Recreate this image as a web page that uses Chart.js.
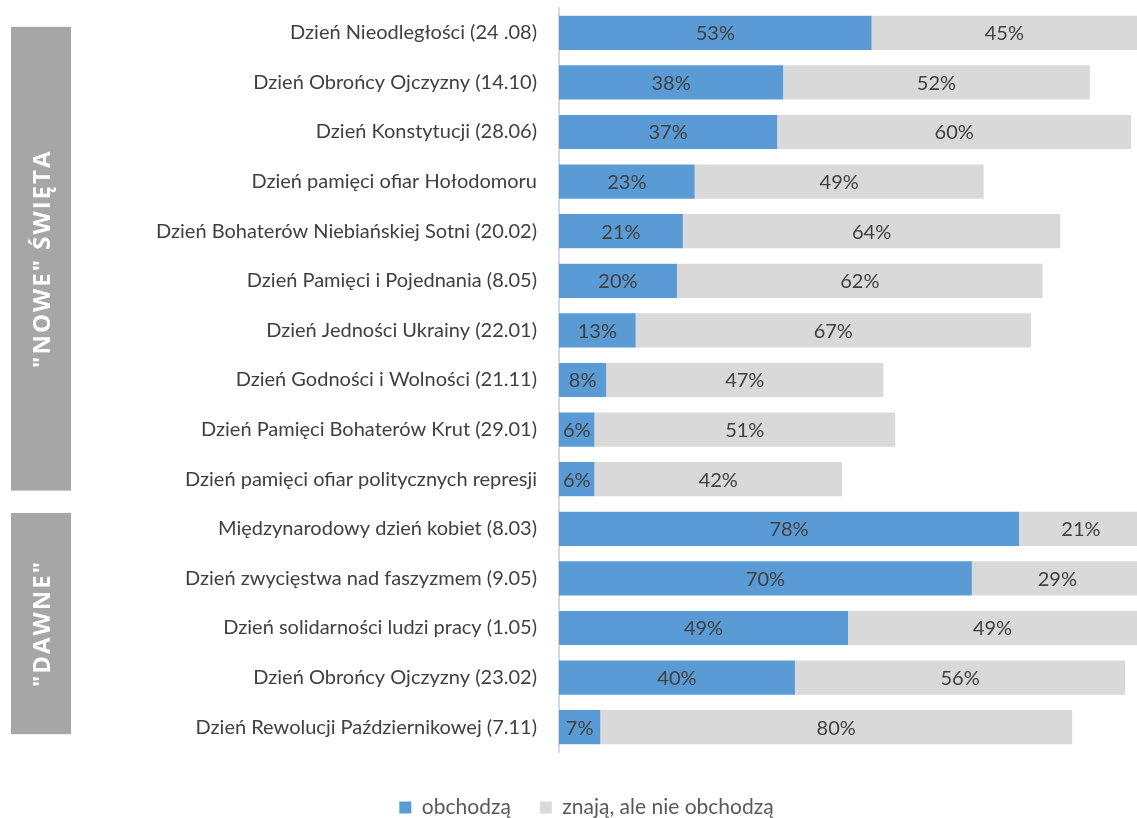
<!DOCTYPE html>
<html>
<head>
<meta charset="utf-8">
<script src="https://cdn.jsdelivr.net/npm/chart.js@4"></script>
<style>
  html, body { margin: 0; padding: 0; background: #fff; }
  #wrap { position: relative; width: 1137px; height: 818px; }
</style>
</head>
<body>
<div id="wrap"><canvas id="c" width="1137" height="818"></canvas></div>
<script>
const categories = [
  "Dzień Nieodległości (24 .08)",
  "Dzień Obrońcy Ojczyzny (14.10)",
  "Dzień Konstytucji (28.06)",
  "Dzień pamięci ofiar Hołodomoru",
  "Dzień Bohaterów Niebiańskiej Sotni (20.02)",
  "Dzień Pamięci i Pojednania (8.05)",
  "Dzień Jedności Ukrainy (22.01)",
  "Dzień Godności i Wolności (21.11)",
  "Dzień Pamięci Bohaterów Krut (29.01)",
  "Dzień pamięci ofiar politycznych represji",
  "Międzynarodowy dzień kobiet (8.03)",
  "Dzień zwycięstwa nad faszyzmem (9.05)",
  "Dzień solidarności ludzi pracy (1.05)",
  "Dzień Obrońcy Ojczyzny (23.02)",
  "Dzień Rewolucji Październikowej (7.11)"
];
const celebrate = [53, 38, 37, 23, 21, 20, 13, 8, 6, 6, 78, 70, 49, 40, 7];
const knowNotCelebrate = [45, 52, 60, 49, 64, 62, 67, 47, 51, 42, 21, 29, 49, 56, 80];
const seriesNames = ["obchodzą", "znają, ale nie obchodzą"];
const groupNames = ["\"NOWE\" ŚWIĘTA", "\"DAWNE\""];
const groupRanges = [[0, 9], [10, 14]];

const FONT = "Lato, 'Open Sans', sans-serif";

const dataLabels = {
  id: 'dataLabels',
  afterDatasetsDraw(chart) {
    const ctx = chart.ctx;
    ctx.save();
    ctx.font = "20px " + FONT;
    ctx.fillStyle = '#404040';
    ctx.textAlign = 'center';
    ctx.textBaseline = 'middle';
    chart.data.datasets.forEach((ds, di) => {
      const meta = chart.getDatasetMeta(di);
      meta.data.forEach((el, i) => {
        const v = ds.data[i];
        const cx = (el.x + el.base) / 2;
        ctx.fillText(v + '%', cx, el.y + 1);
      });
    });
    ctx.restore();
  }
};

const groupBoxes = {
  id: 'groupBoxes',
  afterDraw(chart) {
    const ctx = chart.ctx;
    const y = chart.scales.y;
    const step = y.getPixelForValue(1) - y.getPixelForValue(0);
    const boxes = [
      [y.getPixelForValue(groupRanges[0][0]) - 0.12 * step, y.getPixelForValue(groupRanges[0][1]) + 0.23 * step],
      [y.getPixelForValue(groupRanges[1][0]) - 0.32 * step, y.getPixelForValue(groupRanges[1][1]) + 0.14 * step]
    ];
    ctx.save();
    boxes.forEach((b, i) => {
      ctx.fillStyle = '#a6a6a6';
      ctx.fillRect(11, b[0], 60, b[1] - b[0]);
      ctx.save();
      ctx.translate(43, (b[0] + b[1]) / 2);
      ctx.rotate(-Math.PI / 2);
      ctx.fillStyle = '#ffffff';
      ctx.font = "bold 24px 'Open Sans', sans-serif";
      try { ctx.letterSpacing = '2px'; } catch (e) {}
      ctx.textAlign = 'center';
      ctx.textBaseline = 'middle';
      ctx.fillText(groupNames[i], 0, 0);
      ctx.restore();
    });
    ctx.restore();
  }
};

const placeLegend = {
  id: 'placeLegend',
  afterLayout(chart) {
    const l = chart.legend;
    if (l) {
      l.left += 18; l.right += 18;
      const h = l.bottom - l.top;
      const targetTop = 768;
      l.top = targetTop; l.bottom = targetTop + h;
    }
  }
};

new Chart(document.getElementById('c'), {
  type: 'bar',
  data: {
    labels: categories,
    datasets: [
      { label: seriesNames[0], data: celebrate, backgroundColor: '#5b9bd5', borderWidth: 0 },
      { label: seriesNames[1], data: knowNotCelebrate, backgroundColor: '#d9d9d9', borderWidth: 0 }
    ]
  },
  options: {
    indexAxis: 'y',
    responsive: false,
    animation: false,
    layout: { padding: { top: 8, right: 0, bottom: 6, left: 0 } },
    datasets: { bar: { categoryPercentage: 0.69, barPercentage: 1.0 } },
    scales: {
      x: { stacked: true, min: 0, max: 98, display: false },
      y: {
        stacked: true,
        grid: { display: false, drawTicks: true, tickLength: 22 },
        border: { display: true, color: '#d9d9d9', width: 2 },
        ticks: { color: '#404040', font: { family: FONT, size: 20 }, padding: 0 },
        afterFit(s) { s.width = 559; s.paddingTop = 0; s.paddingBottom = 0; }
      }
    },
    plugins: {
      legend: {
        position: 'bottom',
        labels: {
          boxWidth: 12, boxHeight: 12, padding: 29,
          color: '#595959',
          font: { family: FONT, size: 21 }
        }
      },
      tooltip: { enabled: false }
    }
  },
  plugins: [dataLabels, groupBoxes, placeLegend]
});
</script>
</body>
</html>
